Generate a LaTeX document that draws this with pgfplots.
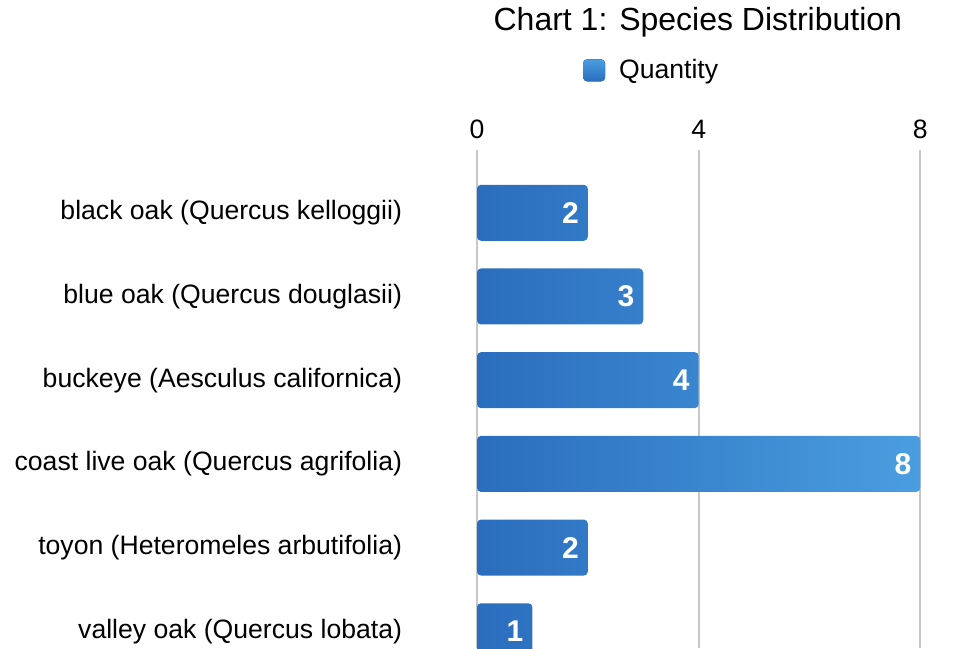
\documentclass[border=0pt]{standalone}
\usepackage{fontspec}
\setmainfont{Liberation Sans}
\usepackage{pgfplots}
\pgfplotsset{compat=1.18}
\definecolor{barA}{HTML}{2A6DBE}
\definecolor{barB}{HTML}{4A9EDF}
\definecolor{gridc}{HTML}{C8C8C8}
\begin{document}
\begin{tikzpicture}
\useasboundingbox (-210.8pt,0pt) rectangle (268.2pt,324pt);
\begin{axis}[
  scale only axis,
  width=268.2pt, height=249pt,
  xbar,
  xmin=-1, xmax=8.68,
  ymin=-0.75, ymax=5.2,
  y dir=reverse,
  bar width=28pt,
  axis line style={draw=none},
  tick style={draw=none},
  xtick={0,4,8},
  xticklabel pos=top,
  xmajorgrids,
  grid style={gridc, line width=1pt},
  ytick={0,1,2,3,4,5},
  yticklabels={black oak (Quercus kelloggii),blue oak (Quercus douglasii),buckeye (Aesculus californica),coast live oak (Quercus agrifolia),toyon (Heteromeles arbutifolia),valley oak (Quercus lobata)},
  /pgf/number format/assume math mode=true,
  tick label style={font=\fontsize{13.3}{16}\selectfont},
  yticklabel style={xshift=-2pt},
  xticklabel style={yshift=2pt},
  nodes near coords,
  nodes near coords style={anchor=east, text=white, font=\fontsize{15}{18}\selectfont\bfseries, xshift=-1pt},
  every axis title shift=0pt,
  title={Chart 1: Species Distribution},
  title style={at={(rel axis cs:0.515,1.257)}, anchor=center, font=\fontsize{16}{19}\selectfont},
  legend style={at={(rel axis cs:0.44,1.16)}, anchor=center, draw=none, font=\fontsize{13.3}{16}\selectfont, legend cell align=left, nodes={inner xsep=7pt}},
  legend image code/.code={\fill[left color=barB, right color=barA, shading angle=0] (0pt,-5.5pt) rectangle (11pt,5.5pt);},
]
\addplot[draw=none, left color=barA, right color=barB, rounded corners=2pt] coordinates {
  (2,0) (3,1) (4,2) (8,3) (2,4) (1,5)
};
\addlegendentry{Quantity}
\end{axis}
\end{tikzpicture}
\end{document}
